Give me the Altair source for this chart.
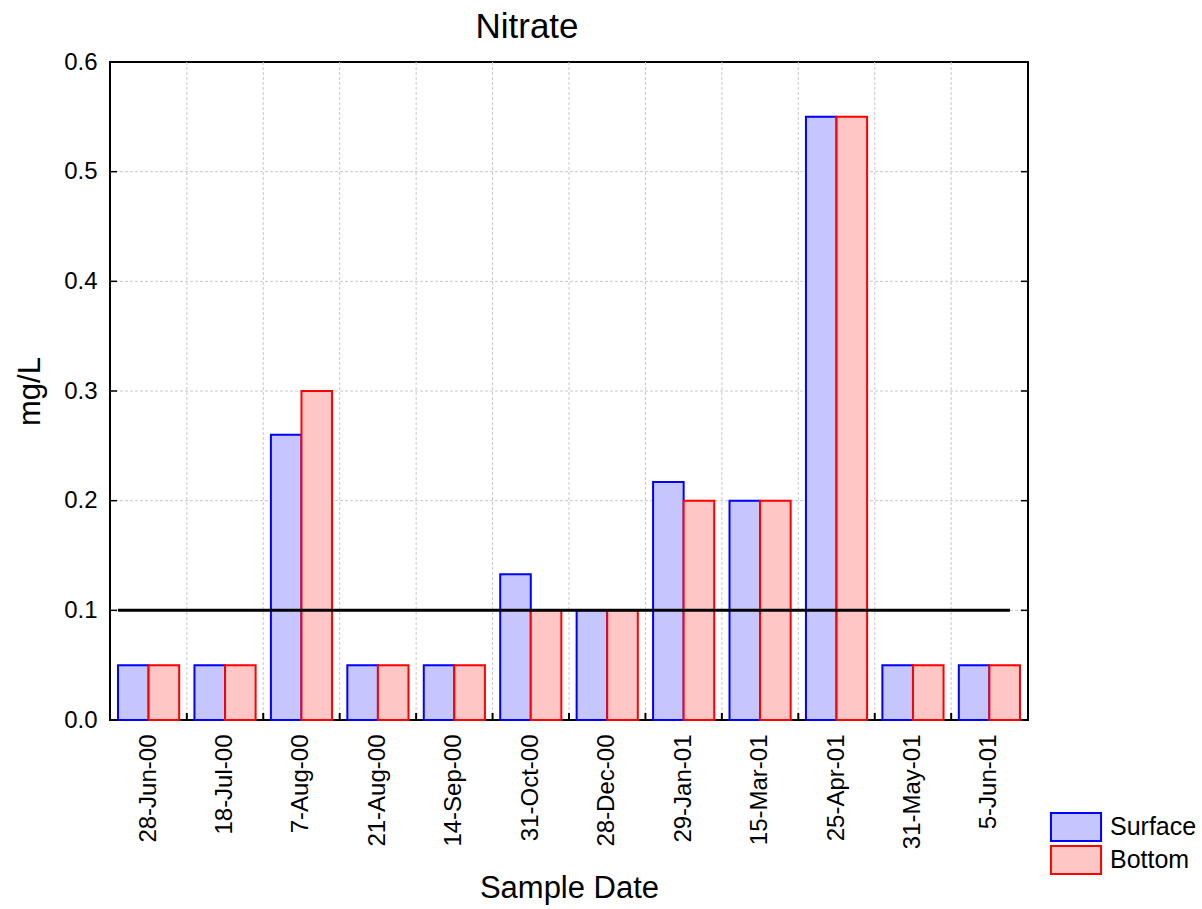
import altair as alt
import pandas as pd

title_text = ["Nitrate"]
dates = ["28-Jun-00", "18-Jul-00", "7-Aug-00", "21-Aug-00", "14-Sep-00", "31-Oct-00",
         "28-Dec-00", "29-Jan-01", "15-Mar-01", "25-Apr-01", "31-May-01", "5-Jun-01"]
surface = [0.05, 0.05, 0.26, 0.05, 0.05, 0.133, 0.1, 0.217, 0.2, 0.55, 0.05, 0.05]
bottom = [0.05, 0.05, 0.30, 0.05, 0.05, 0.1, 0.1, 0.2, 0.2, 0.55, 0.05, 0.05]
series = ["Surface", "Bottom"]
limit = [0.1]
yticks = [0, 0.1, 0.2, 0.3, 0.4, 0.5, 0.6]

rows = []
for d, s, b in zip(dates, surface, bottom):
    rows.append({"date": d, "series": "Surface", "value": s})
    rows.append({"date": d, "series": "Bottom", "value": b})
df = pd.DataFrame(rows)
grid_df = pd.DataFrame({"date": dates[1:]})
limit_df = pd.DataFrame({"value": limit})
ytick_df = pd.DataFrame({"value": yticks[1:-1]})
title_df = pd.DataFrame({"t": title_text})

W, H = 918, 658
FONT = "Liberation Sans"
PI, PO = 0.2, 0.105
STEP = W / (len(dates) - PI + 2 * PO)
HALF_GAP = PI * STEP / 2

xscale = alt.Scale(domain=dates, paddingInner=PI, paddingOuter=PO)
yscale = alt.Scale(domain=[0, 0.6], nice=False)

xaxis = alt.Axis(title="Sample Date", labelAngle=-90, labelFontSize=24,
                 labelFont=FONT, labelColor="black", labelPadding=14,
                 ticks=False, domain=False, grid=False,
                 titleFont=FONT, titleFontSize=31, titleFontWeight="normal",
                 titleColor="black", titleY=168, titleBaseline="middle")
yaxis = alt.Axis(title="mg/L", values=yticks, format=".1f",
                 labelFontSize=24, labelFont=FONT, labelColor="black", labelPadding=13,
                 ticks=False, domain=False, grid=False,
                 titleFont=FONT, titleFontSize=31, titleFontWeight="normal",
                 titleColor="black", titleX=-80, titleBaseline="middle")

vgrid = alt.Chart(grid_df).mark_rule(color="#c8c8c8", strokeDash=[3, 2], strokeWidth=1,
                                     xOffset=-HALF_GAP).encode(
    x=alt.X("date:N", scale=xscale, sort=dates, bandPosition=0, axis=xaxis)
)

hgrid = alt.Chart(ytick_df).mark_rule(color="#c8c8c8", strokeDash=[3, 2], strokeWidth=1).encode(
    y=alt.Y("value:Q", scale=yscale, axis=yaxis)
)

xticks = alt.Chart(grid_df).mark_rule(color="black", strokeWidth=2, xOffset=-HALF_GAP).encode(
    x=alt.X("date:N", scale=xscale, sort=dates, bandPosition=0, axis=xaxis),
    y=alt.value(H),
    y2=alt.value(H - 7),
)

yticks_left = alt.Chart(ytick_df).mark_rule(color="black", strokeWidth=1.5).encode(
    y=alt.Y("value:Q", scale=yscale, axis=yaxis),
    x=alt.value(0),
    x2=alt.value(7),
)
yticks_right = alt.Chart(ytick_df).mark_rule(color="black", strokeWidth=1.5).encode(
    y=alt.Y("value:Q", scale=yscale, axis=yaxis),
    x=alt.value(W - 7),
    x2=alt.value(W),
)

bars = alt.Chart(df).mark_bar(strokeWidth=2, fillOpacity=1).encode(
    x=alt.X("date:N", scale=xscale, sort=dates, axis=xaxis),
    xOffset=alt.XOffset("series:N", sort=series, scale=alt.Scale(domain=series, paddingInner=0, paddingOuter=0)),
    y=alt.Y("value:Q", scale=yscale, axis=yaxis),
    fill=alt.Fill("series:N", sort=series,
                  scale=alt.Scale(domain=series, range=["#c6c6ff", "#ffc6c6"]),
                  legend=alt.Legend(title=None, orient="none", legendX=951, legendY=750,
                                    symbolType="M-1.79,-1L1.79,-1L1.79,1L-1.79,1Z",
                                    symbolSize=784, symbolStrokeWidth=2,
                                    labelFontSize=25, labelFont=FONT, labelColor="black",
                                    labelOffset=19, rowPadding=-3, padding=0)),
    stroke=alt.Stroke("series:N", sort=series,
                      scale=alt.Scale(domain=series, range=["#0000ff", "#ff0000"]),
                      legend=None),
)

limit_line = alt.Chart(limit_df).mark_rule(color="black", strokeWidth=3).encode(
    y=alt.Y("value:Q", scale=yscale, axis=yaxis),
    x=alt.value(8),
    x2=alt.value(900),
)

title = alt.Chart(title_df).mark_text(font=FONT, fontSize=35, color="black",
                                      align="center", baseline="alphabetic").encode(
    text="t:N",
    x=alt.value(417),
    y=alt.value(-24),
)

chart = alt.layer(vgrid, hgrid, xticks, yticks_left, yticks_right, bars, limit_line, title).properties(
    width=W, height=H,
    background="white",
    autosize=alt.AutoSizeParams(type="none"),
    padding={"left": 110, "top": 62, "right": 174, "bottom": 189},
).configure_view(stroke="black", strokeWidth=2)

chart.save("out.html", embed_options={"renderer": "svg", "actions": False})
